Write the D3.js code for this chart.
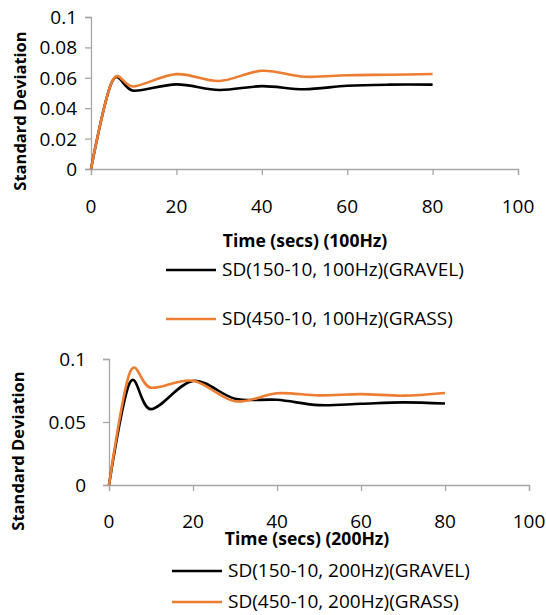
<!DOCTYPE html>
<html lang="en">
<head>
    <meta charset="UTF-8">
    <title>Standard Deviation over Time</title>
    <script src="https://d3js.org/d3.v7.min.js"></script>
    <style>
        body, html {
            margin: 0;
            padding: 0;
            background: #fff;
            overflow: hidden;
        }
        svg {
            display: block;
            font-family: "Open Sans", "Noto Sans", sans-serif;
        }
        .tick-label { font-size: 19px; fill: #000; }
        .axis-title { font-size: 17.5px; font-weight: bold; fill: #000; }
        .y-title { font-size: 16.5px; font-weight: bold; fill: #000; }
        .legend-text { font-size: 19px; fill: #000; }
    </style>
</head>
<body>
    <svg width="546" height="615" id="chart"></svg>

    <script>
        // time points (secs)
        const times = [0, 5, 10, 20, 30, 40, 50, 60, 70, 80];

        // 100Hz
        const gravel100 = [0, 0.0578, 0.0515, 0.0557, 0.052, 0.0545, 0.0525, 0.0548, 0.0555, 0.0555];
        const grass100  = [0, 0.058, 0.0543, 0.0624, 0.0579, 0.0646, 0.0607, 0.0617, 0.062, 0.0625];

        // 200Hz
        const gravel200 = [0, 0.0815, 0.0602, 0.0826, 0.0685, 0.0676, 0.0634, 0.0645, 0.0656, 0.0647];
        const grass200  = [0, 0.0895, 0.0772, 0.0828, 0.0664, 0.0728, 0.0711, 0.0721, 0.0709, 0.073];

        const xTicks = [0, 20, 40, 60, 80, 100];
        const yTicks100 = [0, 0.02, 0.04, 0.06, 0.08, 0.1];
        const yTicks200 = [0, 0.05, 0.1];

        const labels100 = ["SD(150-10, 100Hz)(GRAVEL)", "SD(450-10, 100Hz)(GRASS)"];
        const labels200 = ["SD(150-10, 200Hz)(GRAVEL)", "SD(450-10, 200Hz)(GRASS)"];
        const colors = ["#000000", "#ED7D31"];
        const axisColor = "#a6a6a6";

        const svg = d3.select("#chart");

        function drawPanel(cfg) {
            const x = d3.scaleLinear().domain([0, 100]).range([cfg.left, cfg.right]);
            const y = d3.scaleLinear().domain([0, 0.1]).range([cfg.bottom, cfg.top]);
            const g = svg.append("g");

            // x axis
            const xAxis = g.append("g")
                .attr("transform", `translate(0,${cfg.bottom})`)
                .call(d3.axisBottom(x).tickValues(xTicks).tickSize(6).tickFormat(""));
            xAxis.select(".domain").attr("stroke", axisColor).attr("stroke-width", 1.3);
            xAxis.selectAll(".tick line").attr("stroke", axisColor).attr("stroke-width", 1.3);

            g.selectAll(".xlab")
                .data(xTicks)
                .enter()
                .append("text")
                .attr("class", "tick-label")
                .attr("x", d => x(d))
                .attr("y", cfg.xLabelY)
                .attr("text-anchor", "middle")
                .text(d => d);

            // y axis
            const yAxis = g.append("g")
                .attr("transform", `translate(${cfg.left},0)`)
                .call(d3.axisLeft(y).tickValues(cfg.yTicks).tickSize(6).tickFormat(""));
            yAxis.select(".domain").attr("stroke", axisColor).attr("stroke-width", 1.3);
            yAxis.selectAll(".tick line").attr("stroke", axisColor).attr("stroke-width", 1.3);

            g.selectAll(".ylab")
                .data(cfg.yTicks)
                .enter()
                .append("text")
                .attr("class", "tick-label")
                .attr("x", cfg.yLabelX)
                .attr("y", d => y(d) + 7)
                .attr("text-anchor", "end")
                .text(d => d);

            // series, smoothed like the spreadsheet lines
            const line = d3.line()
                .x((d, i) => x(times[i]))
                .y(d => y(d))
                .curve(d3.curveCardinal.tension(0));

            cfg.series.forEach((s, i) => {
                g.append("path")
                    .datum(s)
                    .attr("fill", "none")
                    .attr("stroke", colors[i])
                    .attr("stroke-width", 2.6)
                    .attr("stroke-linejoin", "round")
                    .attr("d", line);
            });

            // titles
            g.append("text")
                .attr("class", "axis-title")
                .attr("x", cfg.xTitleX)
                .attr("y", cfg.xTitleY)
                .attr("text-anchor", "middle")
                .text(cfg.xTitle);

            g.append("text")
                .attr("class", "y-title")
                .attr("transform", `translate(${cfg.yTitleX},${cfg.yTitleY}) rotate(-90)`)
                .attr("text-anchor", "middle")
                .text("Standard Deviation");

            // legend
            cfg.labels.forEach((lab, i) => {
                const ly = cfg.legendY[i];
                g.append("line")
                    .attr("x1", cfg.legendX).attr("x2", cfg.legendX + 50)
                    .attr("y1", ly).attr("y2", ly)
                    .attr("stroke", colors[i])
                    .attr("stroke-width", 2.6);
                g.append("text")
                    .attr("class", "legend-text")
                    .attr("x", cfg.legendX + 56)
                    .attr("y", ly + 6)
                    .text(lab);
            });
        }

        drawPanel({
            left: 91, right: 518, top: 17, bottom: 169,
            yTicks: yTicks100, yLabelX: 77, xLabelY: 213,
            series: [gravel100, grass100],
            xTitle: "Time (secs) (100Hz)", xTitleX: 305, xTitleY: 247,
            yTitleX: 26, yTitleY: 111,
            labels: labels100, legendX: 166, legendY: [270, 319]
        });

        drawPanel({
            left: 109, right: 529, top: 359, bottom: 485,
            yTicks: yTicks200, yLabelX: 86, xLabelY: 528,
            series: [gravel200, grass200],
            xTitle: "Time (secs) (200Hz)", xTitleX: 307, xTitleY: 545,
            yTitleX: 24, yTitleY: 451,
            labels: labels200, legendX: 172, legendY: [571, 602]
        });
    </script>
</body>
</html>
